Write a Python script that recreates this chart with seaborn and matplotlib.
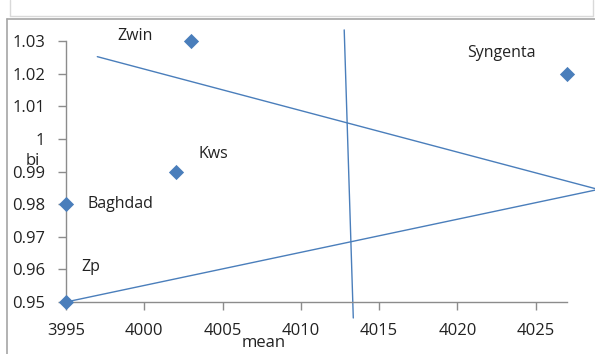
import matplotlib
matplotlib.use("Agg")
import matplotlib.pyplot as plt
import seaborn as sns
import pandas as pd
from matplotlib.lines import Line2D

# varieties: mean yield vs regression coefficient bi
names = ["Zwin", "Syngenta", "Kws", "Baghdad", "Zp"]
mean = [4003, 4027, 4002, 3995, 3995]
bi = [1.03, 1.02, 0.99, 0.98, 0.95]

# where each name label sits
label_x = [3999.4, 4022.8, 4004.4, 3996.35, 3996.6]
label_y = [1.0315, 1.0262, 0.9953, 0.980, 0.9607]

# guide lines (drawn past the plot area like the original)
upper_x = [3997, 4029]
upper_y = [1.0252, 0.9845]
lower_x = [3995, 4029]
lower_y = [0.950, 0.9845]
vert_x = [4012.77, 4013.35]
vert_y = [1.0334, 0.9451]

df = pd.DataFrame({"mean": mean, "bi": bi, "name": names})

sns.set_style("white")
plt.rcParams["font.family"] = ["Open Sans", "DejaVu Sans"]

blue = "#4a7ebb"
txt = "#222222"
fig = plt.figure(figsize=(5.95, 3.54), dpi=100)
ax = fig.add_axes([66 / 595, 1 - 302 / 354, 501 / 595, 261 / 354])

sns.scatterplot(data=df, x="mean", y="bi", marker="D", s=60, color=blue,
                edgecolor=blue, linewidth=0, ax=ax, clip_on=False, zorder=5)

for xs, ys in [(upper_x, upper_y), (lower_x, lower_y), (vert_x, vert_y)]:
    sns.lineplot(x=xs, y=ys, color=blue, linewidth=1.0, ax=ax,
                 clip_on=False, sort=False, estimator=None)

for n, lx, ly in zip(names, label_x, label_y):
    ax.text(lx, ly, n, ha="center" if n != "Baghdad" else "left",
            va="center", fontsize=11.5, color=txt)

ax.set_xlim(3995, 4027)
ax.set_ylim(0.95, 1.03)
ax.set_xticks([3995, 4000, 4005, 4010, 4015, 4020, 4025])
ax.set_yticks([0.95, 0.96, 0.97, 0.98, 0.99, 1.0, 1.01, 1.02, 1.03])
ax.set_yticklabels(["0.95", "0.96", "0.97", "0.98", "0.99", "1", "1.01", "1.02", "1.03"])

for s in ["top", "right"]:
    ax.spines[s].set_visible(False)
for s in ["left", "bottom"]:
    ax.spines[s].set_color("#8c8c8c")
    ax.spines[s].set_linewidth(1.0)

ax.tick_params(axis="y", direction="out", length=6, width=1, color="#8c8c8c",
               pad=9, labelsize=12, labelcolor=txt, left=True)
ax.tick_params(axis="x", direction="out", length=6, width=1, color="#8c8c8c",
               pad=9, labelsize=12, labelcolor=txt, bottom=True)

ax.set_xlabel("mean", fontsize=12, color=txt)
ax.xaxis.set_label_coords((264 - 66) / 501, (302 - 343) / 261)
ax.xaxis.label.set_verticalalignment("center")
ax.set_ylabel("bi", fontsize=12, color=txt, rotation=0)
ax.yaxis.set_label_coords((33 - 66) / 501, (302 - 161) / 261)
ax.yaxis.label.set_verticalalignment("center")

# screenshot frame
gray = "#a6a6a6"
light = "#d9d9d9"
fig.add_artist(Line2D([10 / 595, 10 / 595], [1, 1 - 16 / 354], transform=fig.transFigure, color=light, lw=1))
fig.add_artist(Line2D([10 / 595, 593 / 595], [1 - 16 / 354, 1 - 16 / 354], transform=fig.transFigure, color=light, lw=1))
fig.add_artist(Line2D([593 / 595, 593 / 595], [1, 1 - 16 / 354], transform=fig.transFigure, color=light, lw=1))
fig.add_artist(Line2D([7 / 595, 1], [1 - 19 / 354, 1 - 19 / 354], transform=fig.transFigure, color=gray, lw=1.2))
fig.add_artist(Line2D([7 / 595, 7 / 595], [0, 1 - 19 / 354], transform=fig.transFigure, color=gray, lw=1.2))

fig.savefig("out.png", dpi=100)
